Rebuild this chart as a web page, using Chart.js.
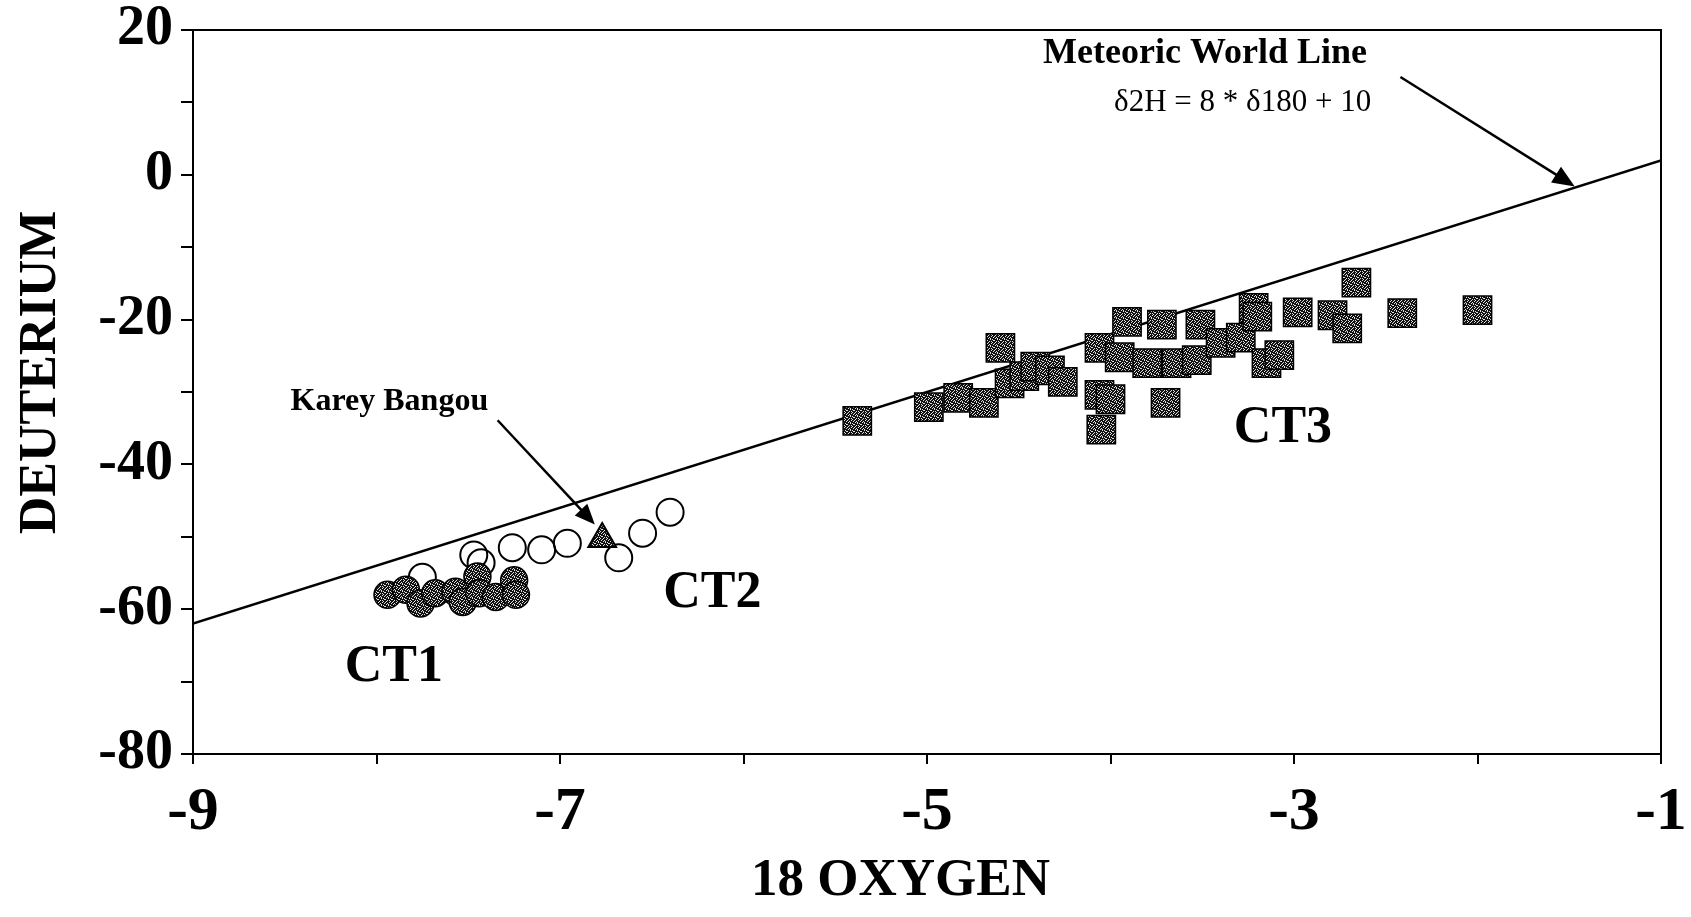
<!DOCTYPE html>
<html>
<head>
<meta charset="utf-8">
<script src="https://cdn.jsdelivr.net/npm/chart.js@4.4.0/dist/chart.umd.min.js"></script>
<style>
  html, body { margin: 0; padding: 0; background: #fff; }
  #wrap { width: 1691px; height: 917px; }
</style>
</head>
<body>
<div id="wrap"><canvas id="chart"></canvas></div>
<script>
// values: 18 oxygen (x) / deuterium (y)
const ct1X = [-7.94, -7.84, -7.76, -7.68, -7.57, -7.53, -7.45, -7.44, -7.35, -7.25, -7.24];
const ct1Y = [-58.0, -57.3, -59.2, -57.8, -57.6, -59.0, -55.5, -57.8, -58.3, -56.0, -58.0];

const ct2X = [-7.75, -7.47, -7.43, -7.26, -7.10, -6.96, -6.68, -6.55, -6.40];
const ct2Y = [-55.6, -52.5, -53.6, -51.5, -51.8, -50.9, -52.9, -49.5, -46.6];

const kareyX = [-6.77];
const kareyY = [-50.3];

const ct3X = [-5.38, -4.99, -4.83, -4.69, -4.60, -4.55, -4.47, -4.41, -4.33, -4.26, -4.06, -4.00, -4.05, -4.06,
              -3.91, -3.95, -3.80, -3.72, -3.70, -3.64, -3.53, -3.51, -3.40, -3.29, -3.22, -3.20, -3.15, -3.08,
              -2.98, -2.79, -2.71, -2.66, -2.41, -2.00];
const ct3Y = [-34.0, -32.1, -30.8, -31.5, -23.9, -28.8, -27.8, -26.5, -27.0, -28.6, -30.4, -31.0, -35.2, -23.9,
              -20.3, -25.2, -26.0, -20.7, -31.5, -26.0, -25.6, -20.7, -23.2, -22.5, -18.4, -19.6, -26.0, -24.9,
              -19.0, -19.4, -21.2, -14.9, -19.1, -18.7];

// meteoric world line end points
const mwlX = [-9, -1];
const mwlY = [-62, 2];

const xTicks = [-9, -7, -5, -3, -1];
const yTicks = [20, 0, -20, -40, -60, -80];

const serif = "'Liberation Serif', 'Times New Roman', serif";
const nb = '\u00a0';

function pts(xs, ys) {
  return xs.map((v, i) => ({x: v, y: ys[i]}));
}

// speckled grey fill like the scanned markers
function speckle() {
  const c = document.createElement('canvas');
  c.width = 7; c.height = 7;
  const g = c.getContext('2d');
  g.fillStyle = '#111';
  g.fillRect(0, 0, 7, 7);
  const mask = ['1000100', '0010001', '0101000', '0001010', '1000001', '0010100', '0100010'];
  g.fillStyle = '#e0e0e0';
  mask.forEach((row, j) => {
    for (let i = 0; i < row.length; i++) {
      if (row[i] === '1') g.fillRect(i, j, 1, 1);
    }
  });
  return g.createPattern(c, 'repeat');
}
const grain = speckle();

function arrow(ctx, x1, y1, x2, y2, head) {
  const ang = Math.atan2(y2 - y1, x2 - x1);
  ctx.beginPath();
  ctx.moveTo(x1, y1);
  ctx.lineTo(x2 - Math.cos(ang) * head * 0.8, y2 - Math.sin(ang) * head * 0.8);
  ctx.stroke();
  ctx.beginPath();
  ctx.moveTo(x2, y2);
  ctx.lineTo(x2 - head * Math.cos(ang - 0.4), y2 - head * Math.sin(ang - 0.4));
  ctx.lineTo(x2 - head * Math.cos(ang + 0.4), y2 - head * Math.sin(ang + 0.4));
  ctx.closePath();
  ctx.fill();
}

const notes = {
  id: 'notes',
  afterDatasetsDraw(chart) {
    const {ctx, chartArea: a, scales: {x, y}} = chart;
    const px = v => x.getPixelForValue(v);
    const py = v => y.getPixelForValue(v);
    ctx.save();
    ctx.strokeStyle = '#000';
    ctx.fillStyle = '#000';
    ctx.lineWidth = 2;
    ctx.strokeRect(a.left, a.top, a.right - a.left, a.bottom - a.top);

    ctx.lineWidth = 2.5;
    arrow(ctx, px(-2.42), py(13.5), px(-1.47), py(-1.6), 24);
    arrow(ctx, px(-7.34), py(-33.9), px(-6.81), py(-48.3), 22);

    ctx.textAlign = 'center';
    ctx.textBaseline = 'middle';
    ctx.font = 'bold 36px ' + serif;
    ctx.fillText('Meteoric World Line', px(-3.485), py(16.7));
    ctx.font = '31px ' + serif;
    ctx.fillText('\u03b42H = 8 * \u03b4180 + 10', px(-3.28), py(10.0));
    ctx.font = 'bold 32px ' + serif;
    ctx.fillText('Karey Bangou', px(-7.93), py(-31.4));
    ctx.font = 'bold 52px ' + serif;
    ctx.fillText('CT1', px(-7.905), py(-68.0));
    ctx.fillText('CT2', px(-6.17), py(-57.9));
    ctx.fillText('CT3', px(-3.06), py(-35.0));
    ctx.restore();
  }
};

new Chart(document.getElementById('chart'), {
  type: 'scatter',
  data: {
    datasets: [
      {
        label: 'Meteoric World Line',
        data: pts(mwlX, mwlY),
        showLine: true,
        borderColor: '#000',
        borderWidth: 2.5,
        pointRadius: 0,
        order: 5
      },
      {
        label: 'CT2',
        data: pts(ct2X, ct2Y),
        pointStyle: 'circle',
        pointRadius: 13.5,
        backgroundColor: 'rgba(255,255,255,0)',
        borderColor: '#000',
        borderWidth: 2,
        order: 4
      },
      {
        label: 'CT1',
        data: pts(ct1X, ct1Y),
        pointStyle: 'circle',
        pointRadius: 13.5,
        backgroundColor: grain,
        borderColor: '#000',
        borderWidth: 1.5,
        order: 3
      },
      {
        label: 'Karey Bangou',
        data: pts(kareyX, kareyY),
        pointStyle: 'triangle',
        pointRadius: 16,
        backgroundColor: grain,
        borderColor: '#000',
        borderWidth: 2,
        order: 2
      },
      {
        label: 'CT3',
        data: pts(ct3X, ct3Y),
        pointStyle: 'rect',
        pointRadius: 20,
        backgroundColor: grain,
        borderColor: '#000',
        borderWidth: 1.5,
        order: 1
      }
    ]
  },
  options: {
    responsive: true,
    maintainAspectRatio: false,
    animation: false,
    layout: { padding: { top: 30, right: 30, left: 0, bottom: 1 } },
    plugins: { legend: { display: false }, tooltip: { enabled: false } },
    scales: {
      x: {
        type: 'linear',
        min: -9,
        max: -1,
        afterFit(s) { s.height = 162; s.paddingLeft = 0; s.paddingRight = 0; },
        ticks: {
          stepSize: 1,
          padding: 12,
          color: '#000',
          maxRotation: 0,
          font: { family: serif, size: 62, weight: 'bold' },
          callback: v => xTicks.includes(v) ? v : ''
        },
        grid: { drawOnChartArea: false, drawTicks: true, tickLength: 10, color: '#000', lineWidth: 2 },
        border: { color: '#000', width: 2 },
        title: {
          display: true,
          text: '18 OXYGEN' + nb.repeat(4),
          color: '#000',
          padding: { top: 0, bottom: 3 },
          font: { family: serif, size: 53, weight: 'bold' }
        }
      },
      y: {
        type: 'linear',
        min: -80,
        max: 20,
        afterFit(s) { s.width = 193; s.paddingTop = 0; s.paddingBottom = 0; },
        ticks: {
          stepSize: 10,
          padding: 8,
          color: '#000',
          font: { family: serif, size: 56, weight: 'bold' },
          callback: v => yTicks.includes(v) ? v : ''
        },
        grid: { drawOnChartArea: false, drawTicks: true, tickLength: 12, color: '#000', lineWidth: 2 },
        border: { color: '#000', width: 2 },
        title: {
          display: true,
          text: nb.repeat(3) + 'DEUTERIUM',
          color: '#000',
          padding: { top: 10, bottom: 0 },
          font: { family: serif, size: 52, weight: 'bold' }
        }
      }
    }
  },
  plugins: [notes]
});
</script>
</body>
</html>
